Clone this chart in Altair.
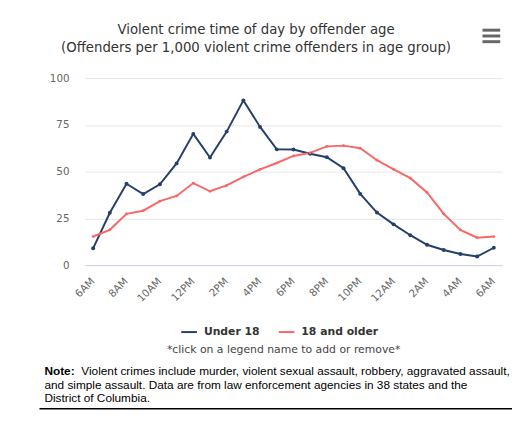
import json
import altair as alt
import pandas as pd

# ---- data ----
hours = list(range(25))  # 6AM .. 6AM next day, hourly
tick_positions = list(range(0, 25, 2))
tick_labels = ["6AM", "8AM", "10AM", "12PM", "2PM", "4PM", "6PM", "8PM",
               "10PM", "12AM", "2AM", "4AM", "6AM"]
series_names = ["Under 18", "18 and older"]
under18 = [9, 28, 43.5, 38, 43.2, 54.4, 70.2, 57.5, 71.4, 88.1, 73.9,
           61.9, 61.8, 59.6, 57.7, 51.8, 38.1, 28.1, 21.8, 16, 10.9, 8.1, 6, 4.6, 9.3]
adults = [15.3, 18.9, 27.4, 29.1, 34.2, 37, 43.9, 39.5, 42.6, 47.2, 51.2,
          54.6, 58.4, 60, 63.5, 63.9, 62.5, 56.1, 51.2, 46.5, 38.9, 27.4, 18.8, 14.7, 15.3]
series_colors = ["#24406a", "#f96767"]
marker_sizes = [16, 8]
y_ticks = [0, 25, 50, 75, 100]

title_lines = ["Violent crime time of day by offender age",
               "(Offenders per 1,000 violent crime offenders in age group)"]
legend_hint = "*click on a legend name to add or remove*"
note_bold = "Note:"
note_lines = ["Violent crimes include murder, violent sexual assault, robbery, aggravated assault,",
              "and simple assault. Data are from law enforcement agencies in 38 states and the",
              "District of Columbia."]

rows = []
for name, vals in zip(series_names, [under18, adults]):
    for h, v in zip(hours, vals):
        rows.append({"hour": h, "series": name, "value": v})
df = pd.DataFrame(rows)
ticks_df = pd.DataFrame({"hour": tick_positions, "label": tick_labels})

FONT = "DejaVu Sans"

x_enc = alt.X("hour:Q",
              scale=alt.Scale(domain=[-0.5, 24.5], nice=False, zero=False),
              axis=alt.Axis(values=tick_positions, labels=False,
                            domainColor="#ccd6eb", domainWidth=1, ticks=False, grid=False,
                            title=None))
y_enc = alt.Y("value:Q",
              scale=alt.Scale(domain=[0, 100], nice=False),
              axis=alt.Axis(values=y_ticks, grid=True, gridColor="#e6e6e6", domain=False,
                            ticks=False, labelColor="#666666", labelFontSize=10.5,
                            labelFont=FONT, labelPadding=16, title=None))
color_scale = alt.Scale(domain=series_names, range=series_colors)

lines = alt.Chart(df).mark_line(strokeWidth=2).encode(
    x=x_enc, y=y_enc,
    color=alt.Color("series:N", scale=color_scale, sort=series_names,
                    legend=alt.Legend(orient="none", legendX=97, legendY=249,
                                      direction="horizontal", title=None,
                                      symbolType="stroke", symbolSize=256,
                                      symbolStrokeWidth=2, labelFont=FONT,
                                      labelFontSize=11, labelFontWeight="bold",
                                      labelColor="#333333", labelOffset=6,
                                      columnPadding=15)),
)
point_layers = [
    alt.Chart(df).transform_filter(alt.datum.series == name)
    .mark_point(filled=True, opacity=1, size=sz, color=col)
    .encode(x="hour:Q", y="value:Q")
    for name, sz, col in zip(series_names, marker_sizes, series_colors)
]

x_labels = alt.Chart(ticks_df).mark_text(
    angle=315, align="right", baseline="middle", font=FONT, fontSize=10.5, color="#666666"
).encode(x="hour:Q", y=alt.value(205), text="label:N")

one = alt.Data(values=[{}])


def text(t, x, y, **kw):
    return alt.Chart(one).mark_text(text=t, **kw).encode(x=alt.value(x), y=alt.value(y))


title1 = text(title_lines[0], 174, -49, font=FONT, fontSize=13.5, color="#333333", align="center", baseline="middle")
title2 = text(title_lines[1], 174, -31, font=FONT, fontSize=13.5, color="#333333", align="center", baseline="middle")

menu = [alt.Chart(one).mark_rule(color="#666666", strokeWidth=3).encode(
    x=alt.value(404), x2=alt.value(422), y=alt.value(yy)) for yy in (-48.7, -42.8, -37)]

hint = text(legend_hint, 202, 276, font=FONT, fontSize=11, color="#444444", align="center", baseline="middle")

NF = "Liberation Sans"
note0 = text(note_bold, -41, 298, font=NF, fontSize=12, fontWeight="bold", color="#000000", align="left", baseline="middle")
note1 = text(note_lines[0], -3.5, 298, font=NF, fontSize=12, color="#000000", align="left", baseline="middle")
note2 = text(note_lines[1], -41, 312, font=NF, fontSize=12, color="#000000", align="left", baseline="middle")
note3 = text(note_lines[2], -41, 325.5, font=NF, fontSize=12, color="#000000", align="left", baseline="middle")
bottom_rule = alt.Chart(one).mark_rule(color="#000000", strokeWidth=1.5).encode(
    x=alt.value(-46), x2=alt.value(434), y=alt.value(336))

chart = alt.layer(lines, *point_layers, x_labels, title1, title2, *menu, hint,
                  note0, note1, note2, note3, bottom_rule).properties(
    width=424, height=190,
    autosize=alt.AutoSizeParams(type="none"),
    padding={"left": 78, "top": 68, "right": 10, "bottom": 148},
).configure_view(stroke=None)

chart.save("out.html", embed_options={"renderer": "svg", "actions": False})
